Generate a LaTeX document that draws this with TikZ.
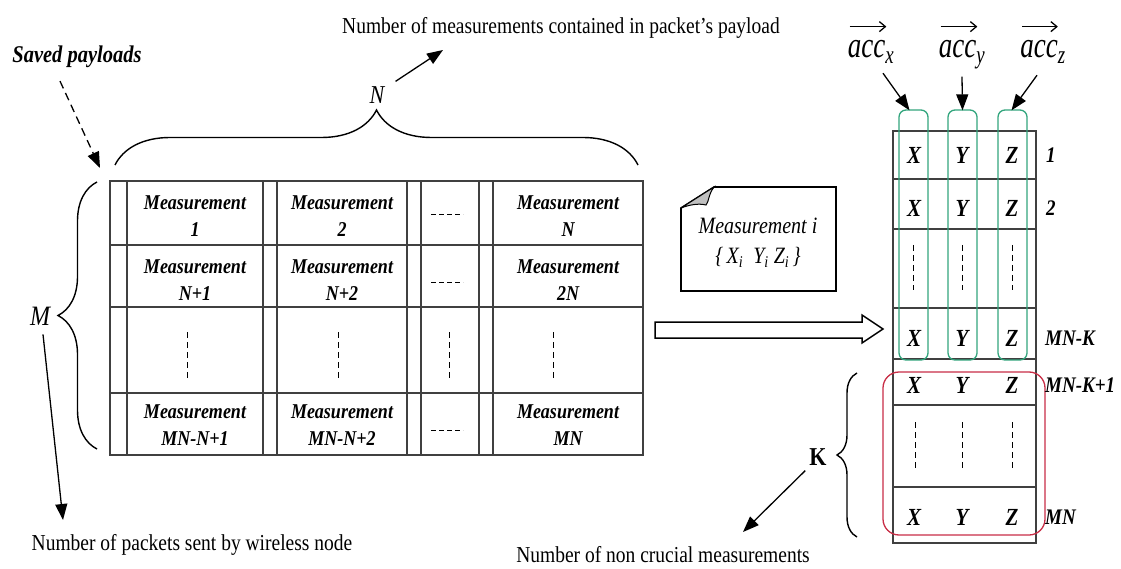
\documentclass[tikz,border=0pt]{standalone}
\usepackage{graphicx}
\usepackage{fontspec}
\setmainfont{Liberation Serif}
\usetikzlibrary{decorations.pathreplacing,arrows.meta,calc}
\definecolor{accgreen}{RGB}{50,165,125}
\definecolor{accred}{RGB}{200,45,70}
\newcommand\vs[1]{\scalebox{1}[1.17]{#1}}
\newcommand\vsb[1]{\scalebox{1}[1.35]{#1}}
\begin{document}
\begin{tikzpicture}[x=1pt,y=-1pt,
  grid/.style={draw=black!75, line width=1.1pt},
  meas/.style={font=\fontsize{18}{27}\selectfont\bfseries\itshape, align=center, inner sep=0pt},
  lab/.style={font=\fontsize{19.5}{22}\selectfont, inner sep=1pt},
  xyz/.style={font=\fontsize{21}{24}\selectfont\bfseries\itshape, inner sep=0pt},
  rowlab/.style={font=\fontsize{19}{22}\selectfont\bfseries\itshape, anchor=west, inner sep=0pt},
  acclab/.style={font=\fontsize{27}{28}\selectfont\itshape, inner sep=0pt, anchor=base},
  arr/.style={-{Triangle[length=16pt,width=12pt]}, line width=1.3pt},
  vecarr/.style={-{Straight Barb[length=6pt,width=10pt]}, line width=1.3pt},
  brc/.style={decorate, decoration={brace, amplitude=#1}, line width=1.4pt},
  dsh/.style={line width=0.9pt, dash pattern=on 6pt off 4pt},
  hdsh/.style={line width=1pt, dash pattern=on 5pt off 3pt},
  gbox/.style={draw=accgreen, line width=1.3pt, rounded corners=7pt, minimum width=29pt, minimum height=250pt, inner sep=0pt},
]
\useasboundingbox (0,0) rectangle (1121,569);

% ---------- left table ----------
\draw[grid] (110,181) rectangle (643,455);
\foreach \x in {127,263,277,407,421,479,493} \draw[grid] (\x,181) -- (\x,455);
\foreach \y in {245,307,393} \draw[grid] (110,\y) -- (643,\y);

\node[meas] (m11) at (195,216) {\vs{Measurement}\\\vs{1}};
\node[meas] (m12) at (342,216) {\vs{Measurement}\\\vs{2}};
\node[meas] (m14) at (568,216) {\vs{Measurement}\\\vs{N}};
\node[meas] (m21) at (195,280) {\vs{Measurement}\\\vs{N+1}};
\node[meas] (m22) at (342,280) {\vs{Measurement}\\\vs{N+2}};
\node[meas] (m24) at (568,280) {\vs{Measurement}\\\vs{2N}};
\node[meas] (m41) at (195,425) {\vs{Measurement}\\\vs{MN-N+1}};
\node[meas] (m42) at (342,425) {\vs{Measurement}\\\vs{MN-N+2}};
\node[meas] (m44) at (568,425) {\vs{Measurement}\\\vs{MN}};

\draw[hdsh] (431,215) -- (463,215);
\draw[hdsh] (431,282) -- (463,282);
\draw[hdsh] (431,430) -- (463,430);
\foreach \x in {187,338,449,553} \draw[dsh] (\x,332) -- (\x,378);

% braces
\draw[brc=55pt] (115,165) -- (638,165);
\draw[brc=39pt] (97,449) -- (97,182);
\node[font=\fontsize{22}{24}\selectfont\itshape, inner sep=1pt] (Nlab) at (377,95) {\vs{N}};
\node[font=\fontsize{24}{26}\selectfont\itshape, inner sep=1pt] (Mlab) at (40,316) {\vs{M}};

% labels
\node[lab] (topText) at (561,28) {\vs{Number of measurements contained in packet’s payload}};
\node[lab] (pktText) at (192,545) {\vs{Number of packets sent by wireless node}};
\node[lab] (ncText) at (663,555) {\vs{Number of non crucial measurements}};
\node[font=\fontsize{20.5}{22}\selectfont\bfseries\itshape, inner sep=1pt] (saved) at (77,57) {\vs{Saved payloads}};

\coordinate (ntip) at (443,50);
\coordinate (mtip) at (63,520);
\coordinate (ktip) at (743,532);
\coordinate (stip) at (100,168);

\draw[arr] ($(Nlab.north east)+(10,-4)$) -- (ntip);
\draw[arr] ($(Mlab.south)+(3,8)$) -- (mtip);
\draw[arr, dash pattern=on 8pt off 5pt] ($(saved.south)+(-17,12)$) -- (stip);

% ---------- note ----------
\draw[line width=1.6pt, fill=white] (714,187) -- (836,187) -- (836,291) -- (681,291) -- (681,208) -- cycle;
\filldraw[fill=gray!50, line width=1pt] (681,208) -- (714,187) .. controls (708,195) and (709,202) .. (706,205) .. controls (698,203) and (689,205) .. (681,208);
\node[font=\fontsize{20}{30}\selectfont\itshape, align=center, inner sep=0pt] (note) at (758,243)
  {\vs{Measurement i}\\\vs{\{\,X\textsubscript{i}~~Y\textsubscript{i}~Z\textsubscript{i}\,\}}};

% ---------- hollow arrow ----------
\draw[line width=1.5pt, fill=white] (655,322) -- (862,322) -- (862,315) -- (883,329) -- (862,343) -- (862,338) -- (655,338) -- cycle;

% ---------- right table ----------
\draw[grid] (893,131) rectangle (1036,543);
\foreach \y in {179,229,308,359,405,487} \draw[grid] (893,\y) -- (1036,\y);

\node[gbox] (gx) at (913.5,235) {};
\node[gbox] (gy) at (962.5,235) {};
\node[gbox] (gz) at (1012.5,235) {};
\draw[draw=accred, line width=1.3pt, rounded corners=16pt] (883,372) rectangle (1045,535);

\foreach \r/\y in {a/155,b/208,c/338,d/385,e/517}{
  \node[xyz] (x\r) at (914,\y) {\vs{X}};
  \node[xyz] (y\r) at (962,\y) {\vs{Y}};
  \node[xyz] (z\r) at (1012,\y) {\vs{Z}};
}
\foreach \x in {913,962,1012} \draw[dsh] (\x,245) -- (\x,290);
\foreach \x in {915,962,1012} \draw[dsh] (\x,422) -- (\x,468);

\node[rowlab] (r1) at (1046,155) {\vs{1}};
\node[rowlab] (r2) at (1046,208) {\vs{2}};
\node[rowlab] (r3) at (1045,338) {\vs{MN-K}};
\node[rowlab] (r4) at (1045,385) {\vs{MN-K+1}};
\node[rowlab] (r5) at (1045,517) {\vs{MN}};

% acc labels with vector arrows
\node[acclab] (accx) at (871,58) {\vsb{acc\textsubscript{x}}};
\node[acclab] (accy) at (962,58) {\vsb{acc\textsubscript{y}}};
\node[acclab] (accz) at (1043,58) {\vsb{acc\textsubscript{z}}};
\draw[vecarr] ($(accx.north west)+(2,-14)$) -- ($(accx.north east)+(-8,-14)$);
\draw[vecarr] ($(accy.north west)+(2,-14)$) -- ($(accy.north east)+(-8,-14)$);
\draw[vecarr] ($(accz.north west)+(2,-14)$) -- ($(accz.north east)+(-8,-14)$);
\draw[arr] ($(accx.south)+(12,10)$) -- ($(gx.north)+(-4,1)$);
\draw[arr] ($(accy.south)+(0,8)$) -- ($(gy.north)+(0,1)$);
\draw[arr] ($(accz.south)+(-6,12)$) -- ($(gz.north)+(-1,1)$);

% K brace
\draw[brc=20pt] (857,537) -- (857,373);
\node[font=\fontsize{22}{24}\selectfont\bfseries, inner sep=1pt] (Klab) at (818,457) {\vs{K}};
\draw[arr] ($(Klab.south west)+(-3,4)$) -- (ktip);
\end{tikzpicture}
\end{document}
